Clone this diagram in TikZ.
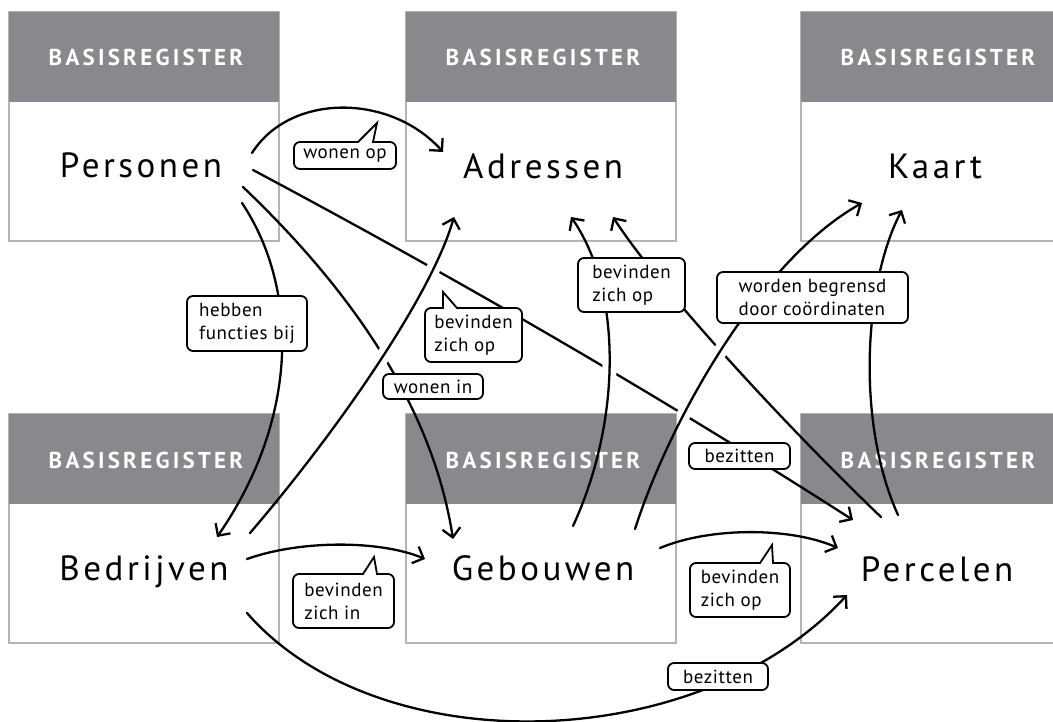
\documentclass[tikz,border=0pt]{standalone}
\usepackage{fontspec}
\setmainfont{PT Sans}
\newfontfamily\hfont{PT Sans}[LetterSpace=14]
\newfontfamily\nfont{PT Sans}[LetterSpace=10]
\newfontfamily\lfont{PT Sans}[LetterSpace=3]
\usetikzlibrary{arrows.meta}
\definecolor{hdr}{RGB}{136,137,141}
\definecolor{brd}{RGB}{180,180,182}
\begin{document}
\begin{tikzpicture}[x=1pt,y=-1pt,
  conn/.style={line width=2.3pt, line cap=round},
  arr/.style={conn, -{Straight Barb[length=9pt,width=18pt,line width=2.3pt]}},
  halo/.style={white, line width=14pt},
  lbl/.style={draw, line width=1.8pt, fill=white, rounded corners=6pt, inner sep=0pt, font=\lfont\fontsize{19}{23}\selectfont, align=left},
  tail/.style={line width=1.8pt, line join=miter},
  nametxt/.style={font=\nfont\fontsize{35}{40}\selectfont, anchor=base, inner sep=0pt},
  hdrtxt/.style={font=\hfont\fontsize{23}{26}\selectfont\bfseries, text=white, anchor=base, inner sep=0pt},
  boxbody/.style={draw=brd, line width=1.2pt, fill=white},
  boxhead/.style={fill=hdr}
]
\useasboundingbox (0,0) rectangle (1053,722);
\clip (0,0) rectangle (1053,722);

% ---------- boxes ----------
\foreach \x/\y in {9/12, 406/12, 801/12, 9/414, 406/414, 801/414}{
  \draw[boxbody] (\x,\y) rectangle ++(270,229);
  \fill[boxhead] (\x,\y) rectangle ++(270,90);
}
\node[hdrtxt] (h1) at (146,66) {BASISREGISTER};
\node[hdrtxt] (h2) at (543,66) {BASISREGISTER};
\node[hdrtxt] (h3) at (938,66) {BASISREGISTER};
\node[hdrtxt] (h4) at (146,468) {BASISREGISTER};
\node[hdrtxt] (h5) at (543,468) {BASISREGISTER};
\node[hdrtxt] (h6) at (938,468) {BASISREGISTER};

\node[nametxt] (Personen) at (141,178) {Personen};
\node[nametxt] (Adressen) at (543,179) {Adressen};
\node[nametxt] (Kaart) at (935,179) {Kaart};
\node[nametxt] (Bedrijven) at (144,580) {Bedrijven};
\node[nametxt] (Gebouwen) at (543,580) {Gebouwen};
\node[nametxt] (Percelen) at (937,581) {Percelen};

% ---------- connector end points ----------
\coordinate (pA) at (252,153);
\coordinate (pP) at (253,170);
\coordinate (pG) at (243,187);
\coordinate (pB) at (242,203);
\coordinate (aP) at (443,152);
\coordinate (aB) at (454,217);
\coordinate (aG) at (571,217);
\coordinate (aR) at (613,217);
\coordinate (kG) at (862,203);
\coordinate (kR) at (902,210);
\coordinate (bP) at (217,537);
\coordinate (bA) at (250,533);
\coordinate (bG) at (247,559);
\coordinate (bR) at (247,613);
\coordinate (gP) at (453,539);
\coordinate (gB) at (425,559);
\coordinate (gA) at (573,526);
\coordinate (gK) at (635,529);
\coordinate (gR) at (660,548);
\coordinate (rP) at (853,520);
\coordinate (rA) at (881,517);
\coordinate (rK) at (898,515);
\coordinate (rG) at (838,548);
\coordinate (rB) at (847,595);

\def\pathBA{(bA) .. controls (330,440) and (430,300) .. (aB)}
\def\pathGA{(gA) .. controls (622,420) and (622,290) .. (aG)}
\def\pathGK{(gK) .. controls (670,420) and (760,260) .. (kG)}

% ---------- under connectors ----------
\draw[arr] (pA) .. controls (290,93) and (390,93) .. (aP);
\draw[arr] (pP) .. controls (450,275) and (650,390) .. (rP);
\draw[arr] (pG) .. controls (330,270) and (430,390) .. (gP);
\draw[arr] (pB) .. controls (300,290) and (298,420) .. (bP);
\draw[arr] (bG) .. controls (300,540) and (380,540) .. (gB);
\draw[arr] (bR) .. controls (380,765) and (700,755) .. (rB);
\draw[arr] (gR) .. controls (710,527) and (790,527) .. (rG);
\draw[arr] (rA) .. controls (790,430) and (660,290) .. (aR);
\draw[arr] (rK) .. controls (855,420) and (865,280) .. (kR);

% ---------- gaps at crossings ----------
\begin{scope}
  \clip (0,243) rectangle (1053,412) (677,0) rectangle (799,722) (281,0) rectangle (404,722);
  \draw[halo] \pathBA;
  \draw[halo] \pathGA;
  \draw[halo] \pathGK;
\end{scope}

% ---------- over connectors ----------
\draw[arr] \pathBA;
\draw[arr] \pathGA;
\draw[arr] \pathGK;

% ---------- labels ----------
\node[lbl, minimum width=102pt, minimum height=27pt] (Lwop) at (345,155.5) {wonen op};
\fill[white] (359,140.5) rectangle (372,143.5);
\draw[tail] (358,142) -- (377,123) -- (373,142);

\node[lbl, minimum width=120pt, minimum height=55pt] (Lhfb) at (247,323.5) {hebben\\functies bij};

\node[lbl, minimum width=97pt, minimum height=54pt] (Lbzo1) at (473.5,335) {bevinden\\zich op};
\fill[white] (444,306.5) rectangle (456,309.5);
\draw[tail] (443,308) -- (443,292) -- (457,308);

\node[lbl, minimum width=100pt, minimum height=25pt] (Lwin) at (433,386.5) {wonen in};

\node[lbl, minimum width=107pt, minimum height=54pt] (Lbzo2) at (631.5,285) {bevinden\\zich op};

\node[lbl, minimum width=191pt, minimum height=51pt] (Lwbc) at (812.5,297.5) {worden begrensd\\door coördinaten};

\node[lbl, minimum width=101pt, minimum height=26pt] (Lbez1) at (739.5,456) {bezitten};

\node[lbl, minimum width=101pt, minimum height=54pt] (Lbzi) at (343.5,601) {bevinden\\zich in};
\fill[white] (364,572.5) rectangle (376,575.5);
\draw[tail] (363,574) -- (374,557) -- (377,574);

\node[lbl, minimum width=100pt, minimum height=54pt] (Lbzo3) at (740,590) {bevinden\\zich op};
\fill[white] (761,561.5) rectangle (772,564.5);
\draw[tail] (760,563) -- (772,545) -- (773,563);

\node[lbl, minimum width=100pt, minimum height=27pt] (Lbez2) at (718,676.5) {bezitten};
\end{tikzpicture}
\end{document}
